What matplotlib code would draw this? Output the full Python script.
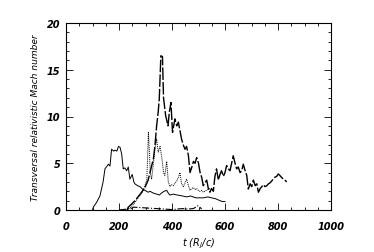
import matplotlib
matplotlib.use("Agg")
import matplotlib.pyplot as plt
from matplotlib.ticker import MultipleLocator

# --- data ---
t_solid = [100, 103, 115, 128, 140, 147, 160, 166, 172, 180, 185, 192, 198, 204, 210, 216, 222,
           229, 235, 241, 250, 256, 260, 270, 279, 290, 298, 310, 317, 330, 342, 352, 360, 370,
           380, 386, 392, 405, 420, 440, 455, 470, 490, 518, 535, 550, 565, 581, 590, 600]
m_solid = [0.0, 0.3, 0.8, 1.5, 3.0, 4.4, 4.9, 4.7, 6.5, 6.3, 6.4, 6.3, 6.8, 6.7, 6.0, 4.4, 4.5,
           4.2, 4.6, 3.3, 3.8, 3.0, 2.8, 2.6, 2.5, 2.2, 2.1, 1.9, 2.0, 1.8, 1.7, 1.6, 1.8, 2.0,
           2.1, 1.8, 1.6, 1.7, 1.6, 1.5, 1.4, 1.5, 1.3, 1.3, 1.4, 1.3, 1.2, 1.0, 0.9, 0.9]

t_dash = [230, 235, 250, 260, 280, 298, 310, 317, 330, 336, 342, 348, 352, 358, 364, 368, 376,
          385, 390, 396, 402, 411, 418, 424, 430, 436, 442, 449, 455, 462, 468, 475, 481, 487,
          493, 500, 506, 512, 518, 524, 531, 537, 543, 549, 556, 562, 568, 575, 581, 587, 594,
          600, 606, 613, 619, 625, 631, 638, 644, 650, 657, 663, 669, 675, 682, 688, 695, 701,
          707, 714, 720, 726, 733, 739, 745, 751, 758, 764, 770, 776, 782, 788, 795, 801, 807,
          813, 820, 826, 833]
m_dash = [0.0, 0.3, 0.7, 1.0, 1.7, 2.4, 3.2, 4.0, 5.5, 7.0, 9.0, 10.5, 11.9, 16.5, 16.4, 12.0,
          10.1, 9.0, 10.5, 11.5, 8.3, 9.75, 9.0, 9.4, 8.5, 7.6, 7.0, 6.5, 6.8, 5.8, 4.0, 4.6, 5.2,
          5.0, 5.6, 5.0, 4.0, 3.5, 2.6, 2.9, 3.2, 2.3, 1.9, 2.3, 2.0, 3.6, 4.4, 3.2, 3.8, 4.2,
          3.6, 4.0, 4.75, 4.4, 4.2, 5.0, 5.8, 5.0, 4.4, 4.6, 4.0, 4.2, 4.9, 4.3, 3.7, 2.25, 2.8,
          2.5, 3.2, 2.6, 2.8, 1.9, 2.3, 2.5, 2.7, 2.5, 2.6, 2.8, 2.9, 3.1, 3.3, 3.5, 3.6, 3.85,
          3.7, 3.5, 3.3, 3.2, 3.0]

t_dot = [230, 245, 260, 275, 290, 300, 305, 311, 315, 318, 323, 330, 336, 342, 348, 355, 362,
         368, 373, 380, 386, 392, 398, 405, 412, 418, 424, 430, 436, 443, 449, 455, 462, 468,
         474, 480, 487, 493, 499, 505, 512, 518, 524, 530, 537, 543]
m_dot = [0.0, 0.3, 0.8, 1.4, 2.0, 2.8, 3.2, 8.3, 6.0, 4.0, 3.3, 5.0, 6.6, 7.6, 6.2, 6.8, 5.5,
         4.0, 3.7, 5.2, 3.0, 2.5, 2.7, 2.6, 2.9, 3.1, 3.5, 4.0, 2.8, 2.5, 2.9, 3.3, 2.6, 2.1,
         2.3, 2.4, 2.2, 2.3, 2.1, 2.0, 2.1, 1.9, 2.0, 2.1, 2.2, 2.3]

t_dd = [200, 215, 230, 245, 255, 400, 420, 440, 460, 480, 490, 497, 505, 512]
m_dd = [0.0, 0.05, 0.1, 0.15, 0.3, 0.05, 0.1, 0.15, 0.1, 0.15, 0.3, 0.45, 0.3, 0.1]

x_ticks = [0, 200, 400, 600, 800, 1000]
y_ticks = [0, 5, 10, 15, 20]
x_label = r"t (R$_j$/c)"
y_label = "Transversal relativistic Mach number"

fig = plt.figure(figsize=(3.74, 2.53), dpi=100)
ax = fig.add_axes([66/374, 1 - 211/253, (331 - 66)/374, (211 - 24)/253])

ax.plot(t_solid, m_solid, color="black", lw=0.7, ls="-")
ax.plot(t_dash, m_dash, color="black", lw=1.0, ls=(0, (9, 1.5)))
ax.plot(t_dot, m_dot, color="black", lw=0.7, ls=(0, (1, 1)))
ax.plot(t_dd, m_dd, color="black", lw=0.8, ls="-.")

ax.set_xlim(0, 1000)
ax.set_ylim(0, 20)
ax.set_xticks(x_ticks)
ax.set_yticks(y_ticks)
ax.xaxis.set_minor_locator(MultipleLocator(50))
ax.yaxis.set_minor_locator(MultipleLocator(1))
ax.tick_params(which="both", direction="in", top=True, right=True, width=0.6)
ax.tick_params(which="major", length=5, labelsize=7, pad=4)
ax.tick_params(axis="x", which="major", pad=8)
ax.tick_params(which="minor", length=2.5)
for lab in ax.get_xticklabels() + ax.get_yticklabels():
    lab.set_fontstyle("italic")
    lab.set_fontweight("bold")
for s in ax.spines.values():
    s.set_linewidth(0.8)

ax.set_xlabel(x_label, fontsize=7, fontstyle="italic", labelpad=3)
ax.set_ylabel(y_label, fontsize=6.5, fontstyle="italic", labelpad=5)

fig.savefig("out.png", dpi=100)
